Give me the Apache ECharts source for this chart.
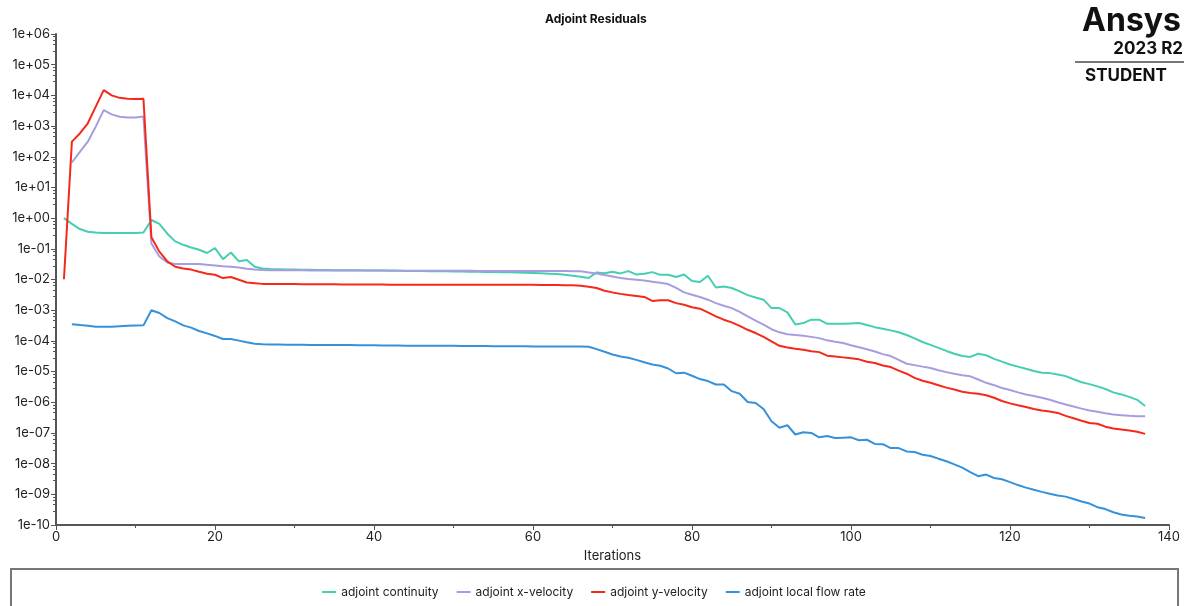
<!DOCTYPE html>
<html>
<head>
<meta charset="utf-8">
<script src="https://cdn.jsdelivr.net/npm/echarts@6/dist/echarts.min.js"></script>
<style>
html,body{margin:0;padding:0;background:#fff;}
#chart{width:1188px;height:606px;}
</style>
</head>
<body>
<div id="chart"></div>
<script>
const iterations = [
  1,2,3,4,5,6,7,8,9,10,11,12,13,14,15,16,17,18,19,20,
  21,22,23,24,25,26,27,28,29,30,31,32,33,34,35,36,37,38,39,40,
  41,42,43,44,45,46,47,48,49,50,51,52,53,54,55,56,57,58,59,60,
  61,62,63,64,65,66,67,68,69,70,71,72,73,74,75,76,77,78,79,80,
  81,82,83,84,85,86,87,88,89,90,91,92,93,94,95,96,97,98,99,100,
  101,102,103,104,105,106,107,108,109,110,111,112,113,114,115,116,117,118,119,120,
  121,122,123,124,125,126,127,128,129,130,131,132,133,134,135,136,137
];

const continuity = [
  1.0, 0.65, 0.44, 0.36, 0.34, 0.33, 0.33, 0.33, 0.33, 0.33,
  0.34, 0.87, 0.65, 0.31, 0.175, 0.135, 0.11, 0.093, 0.073, 0.105,
  0.046, 0.076, 0.039, 0.043, 0.026, 0.023, 0.022, 0.0215, 0.021, 0.021,
  0.0208, 0.0207, 0.0205, 0.0204, 0.0202, 0.0201, 0.0200, 0.0199, 0.0198, 0.0196,
  0.0195, 0.0194, 0.0192, 0.0191, 0.0190, 0.0188, 0.0187, 0.0186, 0.0184, 0.0183,
  0.0181, 0.0180, 0.0178, 0.0177, 0.0175, 0.0173, 0.0171, 0.0169, 0.0167, 0.0164,
  0.0160, 0.0155, 0.0150, 0.0142, 0.0132, 0.0122, 0.0112, 0.0170, 0.0161, 0.0178,
  0.0158, 0.0188, 0.0145, 0.0155, 0.0174, 0.0142, 0.0142, 0.0120, 0.0145, 0.0089,
  0.0083, 0.0132, 0.0055, 0.0059, 0.0053, 0.0041, 0.0031, 0.0026, 0.0022, 0.00117,
  0.00117, 0.00085, 0.00034, 0.00038, 0.00049, 0.00049, 0.00036, 0.00036, 0.00036, 0.00037,
  0.00038, 0.00033, 0.00028, 0.00025, 0.00022, 0.00019, 0.000155, 0.00012, 0.000092, 0.000074,
  5.9e-5, 4.7e-5, 3.8e-5, 3.2e-5, 3.0e-5, 3.8e-5, 3.4e-5, 2.6e-5, 2.1e-5, 1.7e-5,
  1.45e-5, 1.23e-5, 1.05e-5, 9.1e-6, 8.9e-6, 8.0e-6, 7.1e-6, 5.6e-6, 4.5e-6, 3.9e-6,
  3.3e-6, 2.7e-6, 2.1e-6, 1.8e-6, 1.5e-6, 1.2e-6, 7.5e-7
];

const xVelocity = [
  null, 65, 145, 310, 960, 3300, 2400, 2000, 1900, 1900,
  2050, 0.15, 0.056, 0.036, 0.032, 0.032, 0.032, 0.032, 0.030, 0.0285,
  0.027, 0.026, 0.0245, 0.0225, 0.021, 0.0205, 0.0200, 0.0200, 0.0199, 0.0199,
  0.0199, 0.0198, 0.0198, 0.0198, 0.0197, 0.0197, 0.0197, 0.0196, 0.0196, 0.0196,
  0.0195, 0.0195, 0.0195, 0.0194, 0.0194, 0.0194, 0.0193, 0.0193, 0.0193, 0.0192,
  0.0192, 0.0192, 0.0191, 0.0191, 0.0191, 0.0190, 0.0190, 0.0190, 0.0190, 0.0190,
  0.0190, 0.0189, 0.0189, 0.0188, 0.0187, 0.0185, 0.0170, 0.0158, 0.0140, 0.0125,
  0.0112, 0.0104, 0.0098, 0.0092, 0.0085, 0.0078, 0.0071, 0.0053, 0.0038, 0.0032,
  0.0027, 0.0022, 0.0017, 0.0014, 0.00117, 0.00088, 0.00063, 0.00046, 0.00034, 0.00024,
  0.00019, 0.000165, 0.000155, 0.000148, 0.000135, 0.000123, 0.000104, 0.000093, 0.000085, 0.000072,
  6.2e-5, 5.3e-5, 4.5e-5, 3.7e-5, 3.2e-5, 2.4e-5, 1.8e-5, 1.62e-5, 1.45e-5, 1.3e-5,
  1.1e-5, 9.6e-6, 8.5e-6, 7.6e-6, 7.0e-6, 5.5e-6, 4.3e-6, 3.6e-6, 2.9e-6, 2.5e-6,
  2.1e-6, 1.8e-6, 1.6e-6, 1.4e-6, 1.2e-6, 1.0e-6, 8.5e-7, 7.3e-7, 6.2e-7, 5.4e-7,
  4.9e-7, 4.4e-7, 4.0e-7, 3.8e-7, 3.6e-7, 3.5e-7, 3.5e-7
];

const yVelocity = [
  0.0102, 310, 575, 1230, 4300, 14800, 10000, 8300, 7800, 7600,
  7800, 0.24, 0.081, 0.039, 0.026, 0.023, 0.021, 0.018, 0.0155, 0.0143,
  0.0111, 0.012, 0.0098, 0.0080, 0.0076, 0.0072, 0.0071, 0.0071, 0.0071, 0.0071,
  0.0070, 0.0070, 0.0070, 0.0070, 0.0070, 0.0069, 0.0069, 0.0069, 0.0069, 0.0069,
  0.0069, 0.0068, 0.0068, 0.0068, 0.0068, 0.0068, 0.0068, 0.0068, 0.0067, 0.0067,
  0.0067, 0.0067, 0.0067, 0.0067, 0.0067, 0.0067, 0.0067, 0.0067, 0.0067, 0.0067,
  0.0066, 0.0066, 0.0066, 0.0065, 0.0065, 0.0063, 0.0058, 0.0053, 0.0043, 0.0038,
  0.0034, 0.0031, 0.0029, 0.0027, 0.0020, 0.0021, 0.0021, 0.0017, 0.0015, 0.00124,
  0.00112, 0.00085, 0.00063, 0.00049, 0.00040, 0.00031, 0.00023, 0.00018, 0.000134, 0.000096,
  6.9e-5, 6.1e-5, 5.5e-5, 5.1e-5, 4.6e-5, 4.3e-5, 3.3e-5, 3.1e-5, 2.9e-5, 2.7e-5,
  2.5e-5, 2.1e-5, 1.9e-5, 1.58e-5, 1.4e-5, 1.07e-5, 8.5e-6, 6.2e-6, 5.0e-6, 4.3e-6,
  3.6e-6, 3.0e-6, 2.6e-6, 2.2e-6, 2.0e-6, 1.9e-6, 1.7e-6, 1.4e-6, 1.1e-6, 9.2e-7,
  8.0e-7, 7.0e-7, 6.0e-7, 5.4e-7, 5.0e-7, 4.5e-7, 3.6e-7, 3.0e-7, 2.5e-7, 2.1e-7,
  2.0e-7, 1.6e-7, 1.4e-7, 1.3e-7, 1.2e-7, 1.1e-7, 9.3e-8
];

const localFlowRate = [
  null, 3.5e-4, 3.3e-4, 3.1e-4, 2.9e-4, 2.9e-4, 2.9e-4, 3.0e-4, 3.1e-4, 3.15e-4,
  3.2e-4, 9.9e-4, 8.1e-4, 5.5e-4, 4.3e-4, 3.2e-4, 2.7e-4, 2.1e-4, 1.75e-4, 1.45e-4,
  1.15e-4, 1.15e-4, 1.02e-4, 9.0e-5, 8.1e-5, 7.7e-5, 7.6e-5, 7.6e-5, 7.5e-5, 7.5e-5,
  7.5e-5, 7.4e-5, 7.4e-5, 7.4e-5, 7.3e-5, 7.3e-5, 7.3e-5, 7.2e-5, 7.2e-5, 7.2e-5,
  7.1e-5, 7.1e-5, 7.1e-5, 7.0e-5, 7.0e-5, 7.0e-5, 6.9e-5, 6.9e-5, 6.9e-5, 6.9e-5,
  6.8e-5, 6.8e-5, 6.8e-5, 6.8e-5, 6.7e-5, 6.7e-5, 6.7e-5, 6.7e-5, 6.7e-5, 6.6e-5,
  6.6e-5, 6.6e-5, 6.6e-5, 6.6e-5, 6.6e-5, 6.5e-5, 6.4e-5, 5.4e-5, 4.4e-5, 3.6e-5,
  3.1e-5, 2.8e-5, 2.4e-5, 2.0e-5, 1.7e-5, 1.55e-5, 1.26e-5, 8.8e-6, 9.2e-6, 7.3e-6,
  5.7e-6, 4.9e-6, 3.8e-6, 3.8e-6, 2.3e-6, 1.9e-6, 1.02e-6, 9.5e-7, 6.0e-7, 2.4e-7,
  1.47e-7, 1.78e-7, 8.9e-8, 1.05e-7, 1.0e-7, 7.2e-8, 8.0e-8, 6.8e-8, 7.0e-8, 7.2e-8,
  5.8e-8, 6.0e-8, 4.4e-8, 4.3e-8, 3.2e-8, 3.2e-8, 2.5e-8, 2.4e-8, 1.95e-8, 1.78e-8,
  1.45e-8, 1.2e-8, 9.5e-9, 7.4e-9, 5.3e-9, 3.9e-9, 4.4e-9, 3.4e-9, 3.1e-9, 2.5e-9,
  2.0e-9, 1.65e-9, 1.4e-9, 1.2e-9, 1.05e-9, 9.2e-10, 8.4e-10, 7.0e-10, 5.8e-10, 5.0e-10,
  3.8e-10, 3.3e-10, 2.6e-10, 2.2e-10, 2.0e-10, 1.9e-10, 1.7e-10
];

const seriesNames = ['adjoint continuity', 'adjoint x-velocity', 'adjoint y-velocity', 'adjoint local flow rate'];
const seriesColors = ['#45cfb0', '#a89ce0', '#f5291a', '#3592da'];
const seriesValues = [continuity, xVelocity, yVelocity, localFlowRate];

const FONT = 'Inter, "Noto Sans", sans-serif';
const chart = echarts.init(document.getElementById('chart'), null, {renderer: 'canvas'});

function expLabel(v) {
  const e = Math.round(Math.log10(v));
  return '1e' + (e < 0 ? '-' : '+') + String(Math.abs(e)).padStart(2, '0');
}

chart.setOption({
  backgroundColor: '#ffffff',
  animation: false,
  textStyle: {fontFamily: FONT},
  title: {
    text: 'Adjoint Residuals',
    left: 540, top: 8,
    textStyle: {fontSize: 12, fontWeight: 'bold', color: '#111', fontFamily: FONT}
  },
  grid: {left: 56, right: 19, top: 34, bottom: 81, containLabel: false},
  legend: {
    data: seriesNames,
    left: 'center', top: 581,
    icon: 'rect', itemWidth: 14, itemHeight: 2, itemGap: 18,
    textStyle: {fontSize: 12, color: '#222', fontFamily: FONT}
  },
  xAxis: {
    type: 'value', min: 0, max: 140, interval: 20,
    name: 'Iterations', nameLocation: 'middle', nameGap: 25,
    nameTextStyle: {fontSize: 13, color: '#222', fontFamily: FONT},
    axisLine: {show: true, onZero: false, lineStyle: {color: '#555', width: 2}},
    axisTick: {show: true, length: 5, lineStyle: {color: '#555', width: 1}},
    minorTick: {show: true, splitNumber: 2, length: 3, lineStyle: {color: '#555'}},
    axisLabel: {fontSize: 13, color: '#222', margin: 6, fontFamily: FONT},
    splitLine: {show: false}
  },
  yAxis: {
    type: 'log', logBase: 10, min: 1e-10, max: 1e6, interval: 1,
    axisLine: {show: true, lineStyle: {color: '#555', width: 2}},
    axisTick: {show: true, length: 5, lineStyle: {color: '#555', width: 1}},
    minorTick: {show: true, splitNumber: 5, length: 3, lineStyle: {color: '#555'}},
    axisLabel: {fontSize: 13, color: '#222', margin: 6, fontFamily: FONT, formatter: expLabel},
    splitLine: {show: false}
  },
  series: seriesNames.map((name, s) => ({
    name: name,
    type: 'line',
    showSymbol: false,
    symbol: 'none',
    connectNulls: false,
    color: seriesColors[s],
    lineStyle: {width: 2, color: seriesColors[s]},
    data: iterations.map((it, k) => [it, seriesValues[s][k]])
  })),
  graphic: [
    {type: 'rect', shape: {x: 11, y: 569, width: 1167, height: 60},
     style: {fill: 'none', stroke: '#777', lineWidth: 2}, silent: true},
    {type: 'text', x: 1181, y: 5,
     style: {text: 'Ansys', font: 'bold 32px ' + FONT, fill: '#111', textAlign: 'right', textVerticalAlign: 'top'}},
    {type: 'text', x: 1183, y: 40,
     style: {text: '2023 R2', font: 'bold 17px ' + FONT, fill: '#111', textAlign: 'right', textVerticalAlign: 'top'}},
    {type: 'line', shape: {x1: 1075, y1: 62, x2: 1184, y2: 62},
     style: {stroke: '#777', lineWidth: 2}},
    {type: 'text', x: 1126, y: 67,
     style: {text: 'STUDENT', font: 'bold 17px ' + FONT, fill: '#111', textAlign: 'center', textVerticalAlign: 'top'}}
  ]
});
</script>
</body>
</html>
